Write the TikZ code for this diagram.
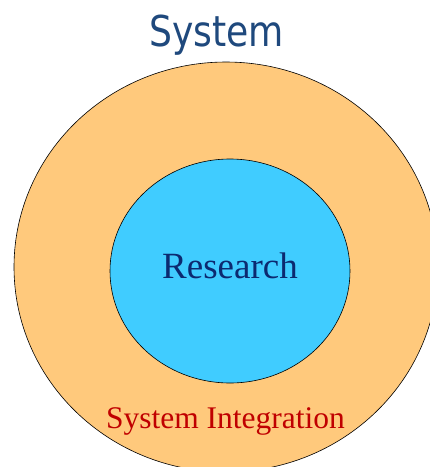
\documentclass[tikz,border=0pt]{standalone}
\usepackage{fontspec}
\setmainfont{Liberation Serif}
\newfontfamily\headfont[FakeStretch=0.85]{DejaVu Sans}
\definecolor{ringfill}{RGB}{255,201,124}
\definecolor{corefill}{RGB}{64,204,255}
\definecolor{headblue}{RGB}{31,73,125}
\definecolor{corenavy}{RGB}{12,42,112}
\definecolor{ringred}{RGB}{192,0,0}
\begin{document}
\begin{tikzpicture}[x=1pt,y=-1pt,
  disc/.style={draw=black,line width=0.6pt},
  label/.style={inner sep=0pt,anchor=base}]
\useasboundingbox (0,0) rectangle (430,467);
\begin{scope}
  \clip (0,0) rectangle (430,467);
  % outer ring: system integration
  \path[disc,fill=ringfill] (226,267) ellipse [x radius=212,y radius=205];
  % inner disc: research
  \path[disc,fill=corefill] (230,271) ellipse [x radius=120,y radius=112];
\end{scope}
\node[label,text=headblue,font=\headfont\fontsize{42.5}{50}\selectfont] (title) at (216.5,46) {System};
\node[label,text=corenavy,font=\fontsize{37}{44}\selectfont] (core) at (230,278) {Research};
\node[label,text=ringred,font=\fontsize{31.5}{38}\selectfont] (ring) at (225.5,428) {System Integration};
\end{tikzpicture}
\end{document}
